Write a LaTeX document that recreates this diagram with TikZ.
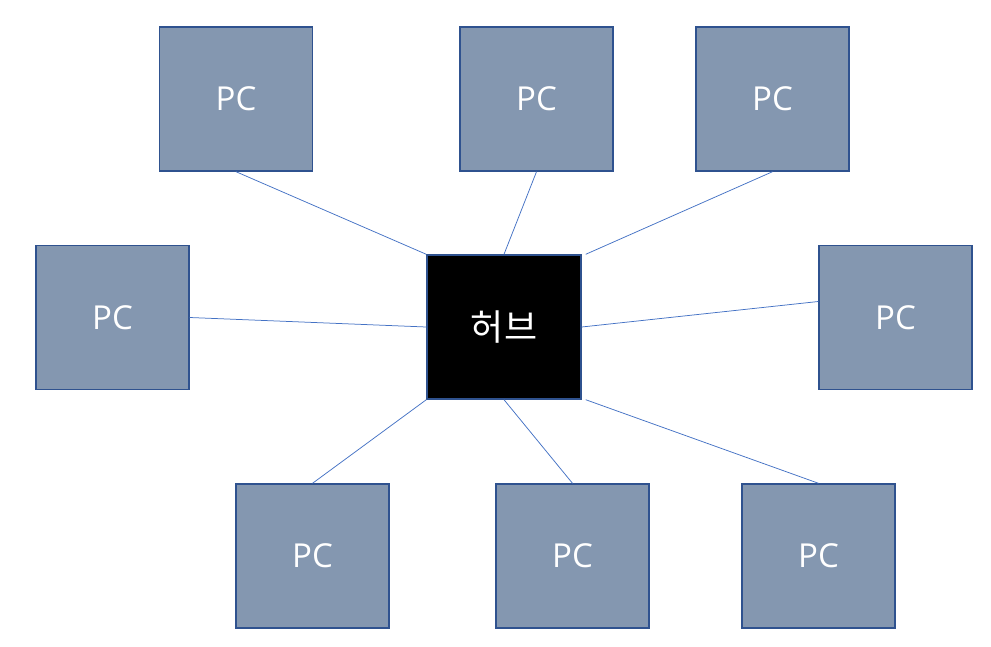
\documentclass[tikz,border=0pt]{standalone}
\usepackage{fontspec}
\setmainfont{Open Sans}
\newfontfamily\kr{Noto Sans CJK KR}
\definecolor{pcfill}{HTML}{8497B0}
\definecolor{pcedge}{HTML}{2F528F}
\definecolor{wire}{HTML}{4472C4}
\begin{document}
\begin{tikzpicture}[x=1pt,y=-1pt,
  pcbox/.style={draw=pcedge,line width=1.4pt,fill=pcfill,minimum width=153pt,minimum height=144pt,inner sep=0pt,text=white,font=\fontsize{33}{33}\selectfont},
  hubbox/.style={draw=pcedge,line width=1.4pt,fill=black,minimum width=154pt,minimum height=144pt,inner sep=0pt,text=white,font=\kr\fontsize{36}{36}\selectfont},
  wirel/.style={draw=wire,line width=0.75pt}]
\useasboundingbox (0,0) rectangle (991,646);
\node[pcbox] (p1) at (236,99) {PC};
\node[pcbox] (p2) at (536.5,99) {PC};
\node[pcbox] (p3) at (772.5,99) {PC};
\node[pcbox] (p4) at (112.5,317.5) {PC};
\node[hubbox] (hub) at (504,327) {허브};
\node[pcbox] (p5) at (895.5,317.5) {PC};
\node[pcbox] (p6) at (312.5,556) {PC};
\node[pcbox] (p7) at (572.5,556) {PC};
\node[pcbox] (p8) at (818.5,556) {PC};
\draw[wirel] (p1.south) -- (hub.north west);
\draw[wirel] (p2.south) -- (hub.north);
\draw[wirel] (p3.south) -- ([xshift=4pt]hub.north east);
\draw[wirel] (p4.east) -- (hub.west);
\draw[wirel] ([yshift=16pt]p5.west) -- (hub.east);
\draw[wirel] (p6.north) -- (hub.south west);
\draw[wirel] (p7.north) -- (hub.south);
\draw[wirel] (p8.north) -- ([xshift=4pt]hub.south east);
\end{tikzpicture}
\end{document}
